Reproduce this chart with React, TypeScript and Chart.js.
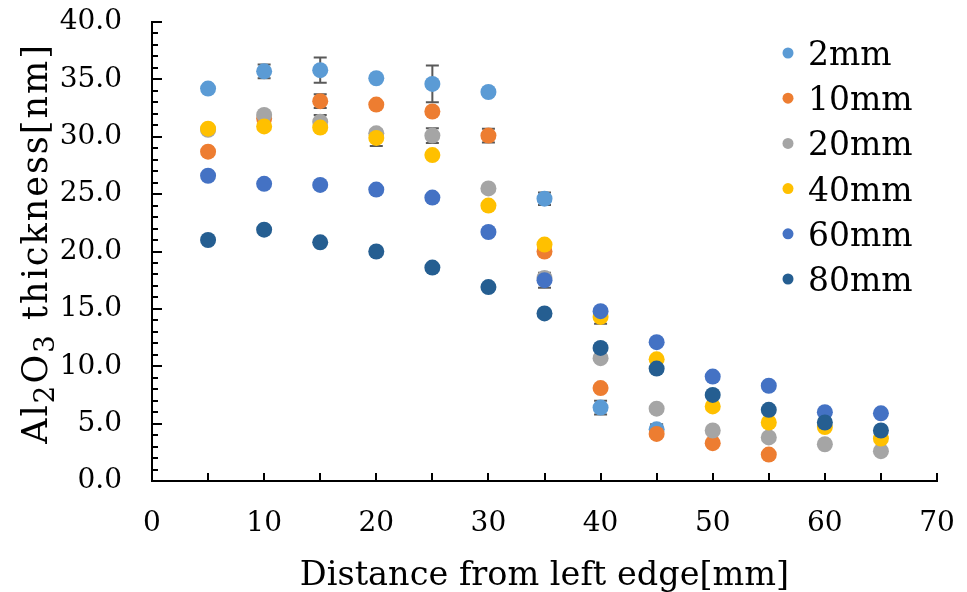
import React, { useEffect, useRef } from 'react';
import { Chart, registerables } from 'chart.js';

Chart.register(...registerables);

const xPositions = [5, 10, 15, 20, 25, 30, 35, 40, 45, 50, 55, 60, 65];
const seriesNames = ['2mm', '10mm', '20mm', '40mm', '60mm', '80mm'];
const seriesColors = ['#5B9BD5', '#ED7D31', '#A5A5A5', '#FFC000', '#4472C4', '#255E91'];

const s2mm = [34.2, 35.7, 35.8, 35.1, 34.6, 33.9, 24.6, 6.4, 4.5, null, null, null, null];
const s10mm = [28.7, 31.6, 33.1, 32.8, 32.2, 30.1, 20.0, 8.1, 4.1, 3.3, 2.3, null, null];
const s20mm = [30.6, 31.9, 31.3, 30.3, 30.1, 25.5, 17.7, 10.7, 6.3, 4.4, 3.8, 3.2, 2.6];
const s40mm = [30.7, 30.9, 30.8, 29.9, 28.4, 24.0, 20.6, 14.3, 10.6, 6.5, 5.1, 4.7, 3.7];
const s60mm = [26.6, 25.9, 25.8, 25.4, 24.7, 21.7, 17.5, 14.8, 12.1, 9.1, 8.3, 6.0, 5.9];
const s80mm = [21.0, 21.9, 20.8, 20.0, 18.6, 16.9, 14.6, 11.6, 9.8, 7.5, 6.2, 5.1, 4.4];

const e2mm = [0, 0.6, 1.1, 0, 1.6, 0, 0.55, 0.6, 0.45, 0, 0, 0, 0];
const e10mm = [0, 0, 0.6, 0, 0, 0.6, 0, 0, 0, 0, 0, 0, 0];
const e20mm = [0, 0, 0.6, 0, 0.65, 0, 0, 0, 0, 0, 0, 0, 0];
const e40mm = [0, 0, 0, 0.7, 0, 0, 0, 0.6, 0, 0, 0, 0, 0];
const e60mm = [0, 0, 0, 0, 0, 0, 0.65, 0, 0, 0, 0, 0, 0];
const e80mm = [0, 0, 0, 0, 0, 0, 0, 0, 0, 0, 0, 0, 0];

const seriesValues = [s2mm, s10mm, s20mm, s40mm, s60mm, s80mm];
const seriesErrors = [e2mm, e10mm, e20mm, e40mm, e60mm, e80mm];

const xTitle = 'Distance from left edge[mm]';
// y title pieces: [text, isSubscript]
const yTitleParts: [string, boolean][] = [
  ['Al', false],
  ['2', true],
  ['O', false],
  ['3', true],
  [' thickness[nm]', false],
];

const FONT = '"DejaVu Serif", serif';

const errorBarPlugin = {
  id: 'errorBars',
  beforeDatasetsDraw(chart: any) {
    const ctx = chart.ctx;
    const xs = chart.scales.x;
    const ys = chart.scales.y;
    ctx.save();
    ctx.strokeStyle = '#595959';
    ctx.lineWidth = 2;
    seriesValues.forEach((vals, i) => {
      vals.forEach((v, j) => {
        const e = seriesErrors[i][j];
        if (v == null || !e) return;
        const px = xs.getPixelForValue(xPositions[j]);
        const y1 = ys.getPixelForValue(v + e);
        const y2 = ys.getPixelForValue(v - e);
        ctx.beginPath();
        ctx.moveTo(px, y1);
        ctx.lineTo(px, y2);
        ctx.moveTo(px - 6.5, y1);
        ctx.lineTo(px + 6.5, y1);
        ctx.moveTo(px - 6.5, y2);
        ctx.lineTo(px + 6.5, y2);
        ctx.stroke();
      });
    });
    ctx.restore();
  },
};

const innerTicksPlugin = {
  id: 'innerTicks',
  afterDraw(chart: any) {
    const ctx = chart.ctx;
    const xs = chart.scales.x;
    const ys = chart.scales.y;
    const area = chart.chartArea;
    ctx.save();
    ctx.strokeStyle = '#000';
    ctx.lineWidth = 2;
    ctx.beginPath();
    for (let v = 0; v <= 40; v += 1) {
      const py = Math.round(ys.getPixelForValue(v));
      const len = v % 5 === 0 ? 10 : 6;
      ctx.moveTo(area.left - 1, py);
      ctx.lineTo(area.left + len, py);
    }
    for (let v = 5; v <= 70; v += 5) {
      const px = Math.round(xs.getPixelForValue(v));
      ctx.moveTo(px, area.bottom + 1);
      ctx.lineTo(px, area.bottom - 8);
    }
    ctx.stroke();
    ctx.restore();
  },
};

const yTitlePlugin = {
  id: 'yTitle',
  afterDraw(chart: any) {
    const ctx = chart.ctx;
    const area = chart.chartArea;
    const size = 35;
    const subSize = 28;
    ctx.save();
    ctx.fillStyle = '#000';
    ctx.textBaseline = 'middle';
    ctx.textAlign = 'left';
    try { (ctx as any).letterSpacing = '2px'; } catch (e) { /* ignore */ }
    let total = 0;
    const widths = yTitleParts.map(([t, sub]) => {
      ctx.font = `${sub ? subSize : size}px ${FONT}`;
      const w = ctx.measureText(t).width;
      total += w;
      return w;
    });
    ctx.translate(38, (area.top + area.bottom) / 2 - 8);
    ctx.rotate(-Math.PI / 2);
    let x = -total / 2;
    yTitleParts.forEach(([t, sub], i) => {
      ctx.font = `${sub ? subSize : size}px ${FONT}`;
      ctx.fillText(t, x, sub ? 9 : 0);
      x += widths[i];
    });
    ctx.restore();
  },
};

const legendPlugin = {
  id: 'customLegend',
  afterDraw(chart: any) {
    const ctx = chart.ctx;
    const area = chart.chartArea;
    ctx.save();
    ctx.font = `33px ${FONT}`;
    ctx.textBaseline = 'alphabetic';
    ctx.textAlign = 'left';
    seriesNames.forEach((name, i) => {
      const base = area.top + 43 + i * 45.2;
      ctx.fillStyle = seriesColors[i];
      ctx.beginPath();
      ctx.arc(area.right - 149, base - 12, 5.5, 0, Math.PI * 2);
      ctx.fill();
      ctx.fillStyle = '#000';
      ctx.fillText(name, area.right - 129, base);
    });
    ctx.restore();
  },
};

const zeroScalePadding = (scale: any) => {
  scale.paddingTop = 0;
  scale.paddingBottom = 0;
  scale.paddingLeft = 0;
  scale.paddingRight = 0;
};

export default function App() {
  const canvasRef = useRef<HTMLCanvasElement | null>(null);

  useEffect(() => {
    const canvas = canvasRef.current;
    if (!canvas) return;
    const datasets = seriesNames.map((name, i) => ({
      label: name,
      data: xPositions
        .map((x, j) => ({ x, y: seriesValues[i][j] }))
        .filter((p) => p.y != null),
      backgroundColor: seriesColors[i],
      borderColor: seriesColors[i],
      borderWidth: 0,
      pointRadius: 8,
      pointHoverRadius: 8,
      showLine: false,
      order: seriesNames.length - i,
    }));

    const chart = new Chart(canvas, {
      type: 'scatter',
      data: { datasets },
      plugins: [errorBarPlugin, innerTicksPlugin, yTitlePlugin, legendPlugin],
      options: {
        responsive: false,
        animation: false,
        devicePixelRatio: 1,
        layout: { padding: { top: 22, right: 30, left: 0, bottom: 0 } },
        plugins: {
          legend: { display: false },
          tooltip: { enabled: false },
        },
        scales: {
          x: {
            type: 'linear',
            min: 0,
            max: 70,
            ticks: {
              stepSize: 10,
              color: '#000',
              font: { family: FONT, size: 28 },
              padding: 26,
            },
            grid: { display: false, drawTicks: false },
            border: { display: true, color: '#000', width: 2 },
            title: {
              display: true,
              text: xTitle,
              color: '#000',
              font: { family: FONT, size: 33.5 },
              padding: { top: 0, bottom: -4 },
            },
            afterFit: (scale: any) => {
              scale.height = 111;
              zeroScalePadding(scale);
            },
          },
          y: {
            type: 'linear',
            min: 0,
            max: 40,
            ticks: {
              stepSize: 5,
              color: '#000',
              font: { family: FONT, size: 28 },
              padding: 30,
              callback: (v: any) => Number(v).toFixed(1),
            },
            grid: { display: false, drawTicks: false },
            border: { display: true, color: '#000', width: 2 },
            title: { display: false },
            afterFit: (scale: any) => {
              scale.width = 152;
              zeroScalePadding(scale);
            },
          },
        },
      },
    });
    return () => chart.destroy();
  }, []);

  return (
    <div style={{ position: 'fixed', left: 0, top: 0, width: 967, height: 592, background: '#fff' }}>
      <canvas ref={canvasRef} width={967} height={592} style={{ width: 967, height: 592 }} />
    </div>
  );
}
